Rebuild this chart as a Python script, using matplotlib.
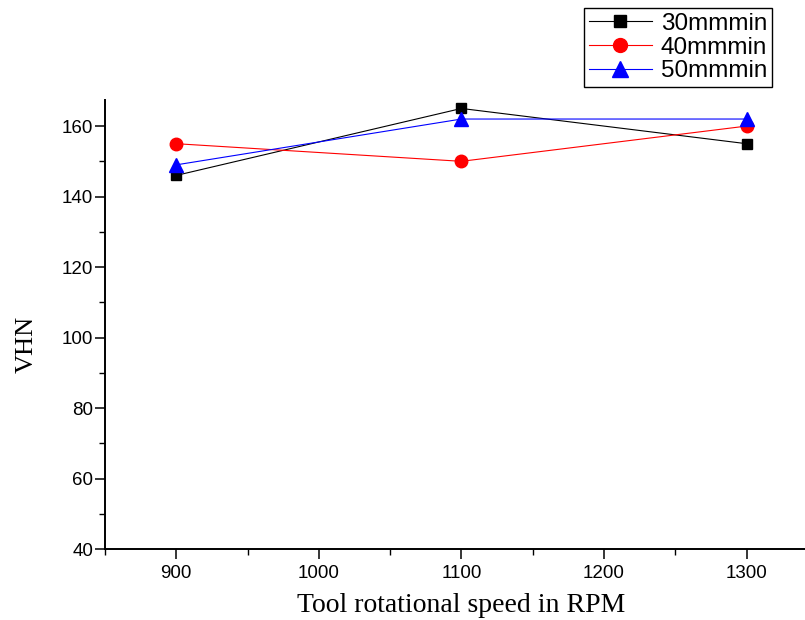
import matplotlib
matplotlib.use("Agg")
import matplotlib.pyplot as plt
from matplotlib.ticker import MultipleLocator

# Vickers hardness versus tool rotational speed for three traverse speeds
rpm = [900, 1100, 1300]
vhn_30 = [146, 165, 155]
vhn_40 = [155, 150, 160]
vhn_50 = [149, 162, 162]
series_labels = ["30mmmin", "40mmmin", "50mmmin"]

fig = plt.figure(figsize=(8.05, 6.2), dpi=100)
ax = fig.add_axes([105 / 805, 71 / 620, 700 / 805, 449 / 620])

ax.plot(rpm, vhn_30, color="black", lw=0.8, marker="s", ms=7.5,
        label=series_labels[0], clip_on=False, zorder=3)
ax.plot(rpm, vhn_40, color="red", lw=0.8, marker="o", ms=9,
        label=series_labels[1], clip_on=False, zorder=3)
ax.plot(rpm, vhn_50, color="blue", lw=0.8, marker="^", ms=10,
        label=series_labels[2], clip_on=False, zorder=3)

ax.set_xlim(850, 1341)
ax.set_ylim(40, 167.4)
ax.xaxis.set_major_locator(MultipleLocator(100))
ax.xaxis.set_minor_locator(MultipleLocator(50))
ax.yaxis.set_major_locator(MultipleLocator(20))
ax.yaxis.set_minor_locator(MultipleLocator(10))

for side in ("top", "right"):
    ax.spines[side].set_visible(False)
for side in ("left", "bottom"):
    ax.spines[side].set_linewidth(1.4)

ax.tick_params(which="major", direction="out", length=7, width=1.1,
               labelsize=13.5)
ax.tick_params(axis="x", which="major", pad=4.5)
ax.tick_params(axis="y", which="major", pad=1.5)
ax.tick_params(which="minor", direction="out", length=4, width=1.0)
for lab in ax.get_xticklabels() + ax.get_yticklabels():
    lab.set_fontfamily("Liberation Sans")

ax.set_xlabel("Tool rotational speed in RPM", fontfamily="Liberation Serif",
              fontsize=20)
ax.xaxis.set_label_coords((461 - 105) / 700, -(605 - 549) / 449)
ax.xaxis.label.set_va("center")
ax.set_ylabel("VHN", fontfamily="Liberation Serif", fontsize=19)
ax.yaxis.set_label_coords(-(105 - 27) / 700, (549 - 344) / 449)
ax.yaxis.label.set_va("center")

leg = fig.legend(loc="upper left", bbox_to_anchor=(584 / 805, 1 - 8 / 620),
                 prop={"family": "Liberation Sans", "size": 17.5},
                 frameon=True, fancybox=False, framealpha=1,
                 edgecolor="black", handlelength=2.6, handletextpad=0.35,
                 borderpad=0.2, labelspacing=0.07, borderaxespad=0)
leg.get_frame().set_linewidth(1.0)
for handle, size in zip(leg.legend_handles, (8.5, 10, 11)):
    handle.set_markersize(size)

fig.savefig("out.png", dpi=100)
